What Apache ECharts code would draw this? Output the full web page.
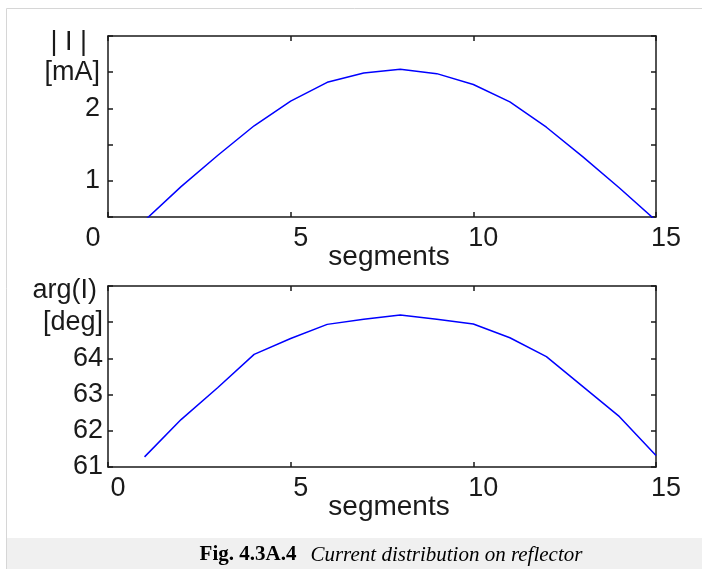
<!DOCTYPE html>
<html>
<head>
<meta charset="utf-8">
<script src="https://cdn.jsdelivr.net/npm/echarts@6/dist/echarts.min.js"></script>
<style>
  html, body { margin: 0; padding: 0; background: #ffffff; }
  #chart { width: 702px; height: 569px; }
</style>
</head>
<body>
<div id="chart"></div>
<script>
// segment index along the reflector
var segments = [1, 2, 3, 4, 5, 6, 7, 8, 9, 10, 11, 12, 13, 14, 15];
// |I| in mA (ends dip below the axis and get clipped, as in the figure)
var currentMag = [0.45, 0.92, 1.35, 1.76, 2.10, 2.36, 2.49, 2.54, 2.48, 2.33, 2.09, 1.74, 1.33, 0.90, 0.45];
// arg(I) in degrees
var currentPhase = [61.28, 62.31, 63.19, 64.11, 64.55, 64.94, 65.08, 65.20, 65.08, 64.95, 64.57, 64.05, 63.22, 62.39, 61.32];

var magTickLabels = { 1: '1', 2: '2', 2.5: '[mA]' };
var phaseTickLabels = { 61: '61', 62: '62', 63: '63', 64: '64', 65: '[deg]' };

var myChart = echarts.init(document.getElementById('chart'), null, {renderer: 'canvas'});

var FONT = 'Liberation Sans';
var INK = '#1a1a1a';

function pairs(xs, ys) {
    return xs.map(function (x, i) { return [x, ys[i]]; });
}

// box-style axis (matlab look): line + inward ticks
function boxLine() {
    return { show: true, onZero: false, lineStyle: { color: INK, width: 1.5 } };
}
function boxTick() {
    return { show: true, inside: true, length: 5, lineStyle: { color: INK, width: 1.5 } };
}

function xAxisPair(gridIndex, labelFormatter, labelRich, labelPadding) {
    return [
        {
            gridIndex: gridIndex, type: 'value', position: 'bottom',
            min: 0, max: 15, interval: 5,
            axisLine: boxLine(), axisTick: boxTick(), splitLine: { show: false },
            axisLabel: {
                margin: 8, color: INK, fontFamily: FONT, fontSize: 27,
                formatter: labelFormatter, rich: labelRich, padding: labelPadding
            },
            name: 'segments', nameLocation: 'middle', nameGap: 26, nameMoveOverlap: false,
            nameTextStyle: { color: INK, fontFamily: FONT, fontSize: 28, padding: [0, 0, 0, 14] }
        },
        {
            gridIndex: gridIndex, type: 'value', position: 'top',
            min: 0, max: 15, interval: 5,
            axisLine: boxLine(), axisTick: boxTick(),
            axisLabel: { show: false }, splitLine: { show: false }
        }
    ];
}

function yAxisPair(gridIndex, min, max, interval, labels, margin) {
    return [
        {
            gridIndex: gridIndex, type: 'value', position: 'left',
            min: min, max: max, interval: interval,
            axisLine: boxLine(), axisTick: boxTick(), splitLine: { show: false },
            axisLabel: {
                margin: margin, color: INK, fontFamily: FONT, fontSize: 27,
                formatter: function (v) { return labels[v] || ''; }
            }
        },
        {
            gridIndex: gridIndex, type: 'value', position: 'right',
            min: min, max: max, interval: interval,
            axisLine: boxLine(), axisTick: boxTick(),
            axisLabel: { show: false }, splitLine: { show: false }
        }
    ];
}

var topX = xAxisPair(0, function (v) {
    return v === 0 ? '{l|0}' : '{r|' + v + '}';
}, {
    l: { padding: [0, 30, 0, 0], color: INK, fontFamily: FONT, fontSize: 27 },
    r: { padding: [0, 0, 0, 20], color: INK, fontFamily: FONT, fontSize: 27 }
}, null);
var botX = xAxisPair(1, function (v) { return String(v); }, null, [0, 0, 0, 20]);

option = {
    animation: false,
    backgroundColor: '#ffffff',
    grid: [
        { left: 108, top: 36, width: 548, height: 181 },
        { left: 108, top: 286, width: 548, height: 181 }
    ],
    xAxis: topX.concat(botX),
    yAxis: yAxisPair(0, 0.5, 3, 0.5, magTickLabels, 8)
        .concat(yAxisPair(1, 61, 66, 1, phaseTickLabels, 5)),
    series: [
        {
            name: '|I|', type: 'line', xAxisIndex: 0, yAxisIndex: 0,
            data: pairs(segments, currentMag),
            showSymbol: false, clip: true,
            lineStyle: { color: '#0000ff', width: 1.5 }
        },
        {
            name: 'arg(I)', type: 'line', xAxisIndex: 2, yAxisIndex: 2,
            data: pairs(segments, currentPhase),
            showSymbol: false, clip: true,
            lineStyle: { color: '#0000ff', width: 1.5 }
        }
    ],
    graphic: [
        // frame of the figure + caption strip
        { type: 'rect', shape: { x: 7, y: 538, width: 695, height: 31 }, style: { fill: '#f0f0f0' }, silent: true },
        { type: 'line', shape: { x1: 6.5, y1: 8.5, x2: 6.5, y2: 569 }, style: { stroke: '#d6d6d6', lineWidth: 1 }, silent: true },
        { type: 'line', shape: { x1: 6.5, y1: 8.5, x2: 702, y2: 8.5 }, style: { stroke: '#d6d6d6', lineWidth: 1 }, silent: true },
        // y axis titles
        { type: 'text', x: 87, y: 43, style: { text: '| I |', fill: INK, font: '27px ' + FONT, textAlign: 'right', textVerticalAlign: 'middle' } },
        { type: 'text', x: 97, y: 291, style: { text: 'arg(I)', fill: INK, font: '27px ' + FONT, textAlign: 'right', textVerticalAlign: 'middle' } },
        // caption
        {
            type: 'text', x: 391, y: 555,
            style: {
                text: '{b|Fig. 4.3A.4}{i|Current distribution on reflector}',
                textAlign: 'center', textVerticalAlign: 'middle',
                rich: {
                    b: { fontFamily: 'Liberation Serif', fontSize: 21, fontWeight: 'bold', fill: '#000' },
                    i: { fontFamily: 'Liberation Serif', fontSize: 21, fontStyle: 'italic', fill: '#000', padding: [0, 0, 0, 14] }
                }
            }
        }
    ]
};

myChart.setOption(option);
</script>
</body>
</html>
